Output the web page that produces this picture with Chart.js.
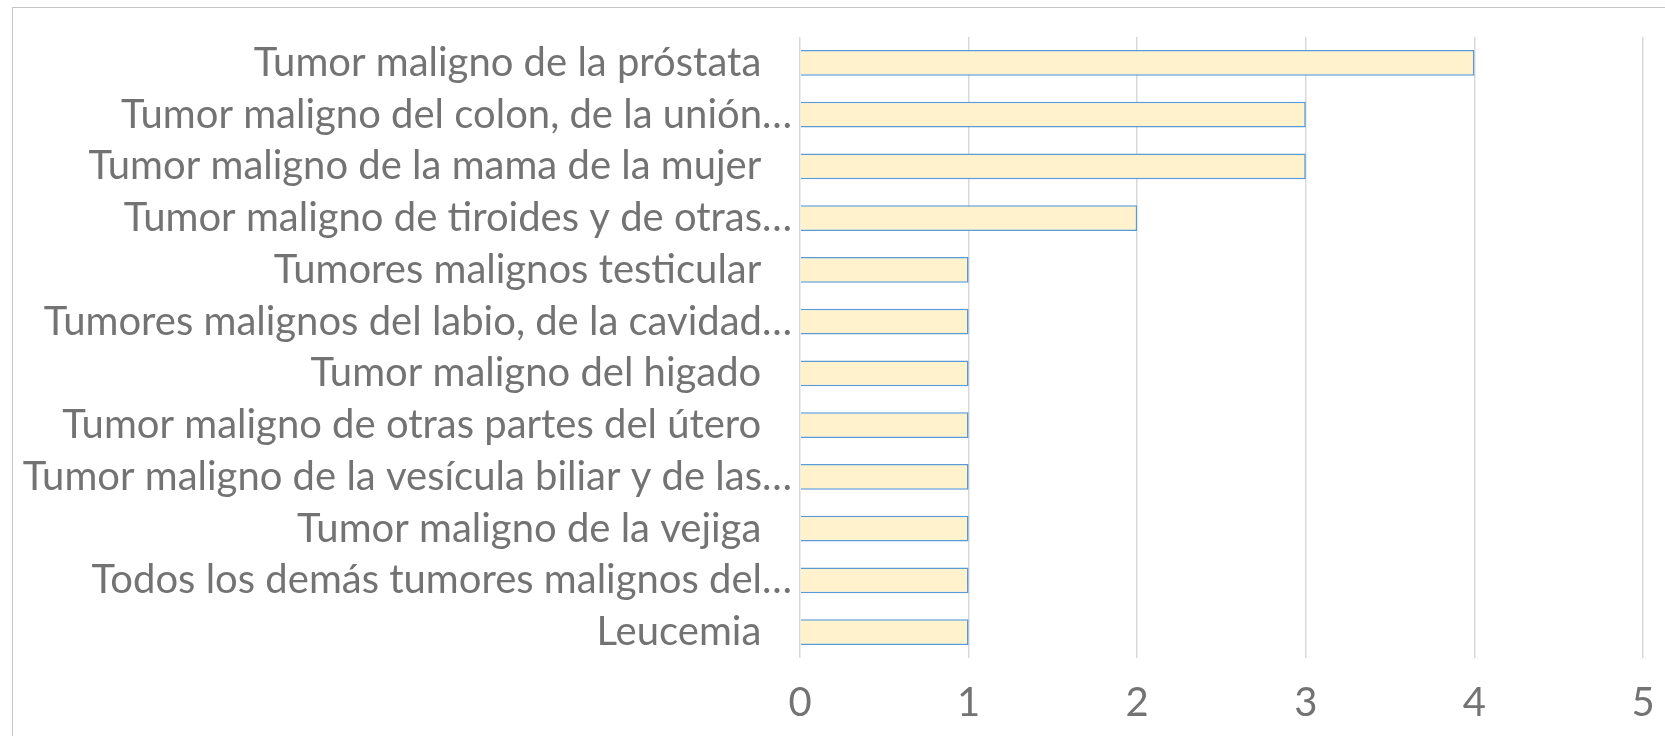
<!DOCTYPE html>
<html>
<head>
<meta charset="utf-8">
<script src="https://cdn.jsdelivr.net/npm/chart.js@4"></script>
<style>
    body { margin: 0; background: #fff; overflow: hidden; }
    #frame { position: absolute; left: 12px; top: 7px; width: 1700px; height: 800px;
             border-left: 1.5px solid #c4c4c4; border-top: 1.5px solid #c4c4c4; }
    #chart { position: absolute; left: 0; top: 0; }
</style>
</head>
<body>
<div id="frame"></div>
<canvas id="chart" width="1665" height="736"></canvas>
<script>
// causes, top to bottom (trailing spaces keep the short ones off the axis, like the original)
const categories = [
    'Tumor maligno de la próstata   ',
    'Tumor maligno del colon, de la unión…',
    'Tumor maligno de la mama de la mujer   ',
    'Tumor maligno de tiroides y de otras…',
    'Tumores malignos testicular   ',
    'Tumores malignos del labio, de la cavidad…',
    'Tumor maligno del higado   ',
    'Tumor maligno de otras partes del útero   ',
    'Tumor maligno de la vesícula biliar y de las…',
    'Tumor maligno de la vejiga   ',
    'Todos los demás tumores malignos del…',
    'Leucemia   '
];
const casos = [4, 3, 3, 2, 1, 1, 1, 1, 1, 1, 1, 1];
const xTicks = [0, 1, 2, 3, 4, 5];

const textGray = '#737373';
const gridGray = '#d9d9d9';
const fontFamily = 'Lato, "Open Sans", sans-serif';

new Chart(document.getElementById('chart'), {
    type: 'bar',
    data: {
        labels: categories,
        datasets: [{
            data: casos,
            backgroundColor: '#FFF2CC',
            borderColor: '#5B9BD5',
            borderWidth: 1.6,
            barPercentage: 0.5,
            categoryPercentage: 1
        }]
    },
    options: {
        indexAxis: 'y',
        responsive: false,
        animation: false,
        layout: { padding: { left: 12, top: 37, right: 22, bottom: 0 } },
        plugins: {
            legend: { display: false },
            tooltip: { enabled: false }
        },
        scales: {
            x: {
                min: xTicks[0],
                max: xTicks[xTicks.length - 1],
                afterBuildTicks: function (scale) {
                    scale.ticks = xTicks.map(v => ({ value: v }));
                },
                afterFit: function (scale) { scale.height = 78; },
                // invisible tick marks push the labels down without padding the right edge
                grid: { color: gridGray, lineWidth: 1.5, drawTicks: true, tickLength: 21, tickColor: 'rgba(0,0,0,0)' },
                border: { display: false },
                ticks: {
                    color: textGray,
                    padding: 0,
                    font: { family: fontFamily, size: 40 }
                }
            },
            y: {
                afterFit: function (scale) { scale.width = 788; },
                grid: { display: false },
                border: { display: false },
                ticks: {
                    color: textGray,
                    padding: 0,
                    autoSkip: false,
                    font: { family: fontFamily, size: 40 }
                }
            }
        }
    }
});
</script>
</body>
</html>
